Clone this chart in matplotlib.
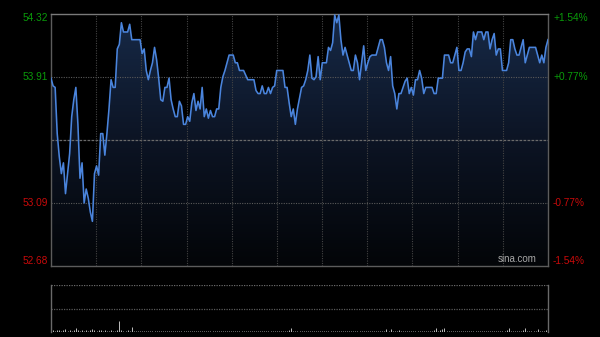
import numpy as np
import matplotlib
matplotlib.use('Agg')
import matplotlib.pyplot as plt
from matplotlib.colors import LinearSegmentedColormap
import matplotlib.transforms as mtransforms

plt.rcParams['font.family'] = ['Liberation Sans', 'DejaVu Sans']

# ---------------- data ----------------
prev_close = 53.50
y_min, y_max = 52.68, 54.32
tick_prices = [54.32, 53.91, 53.09, 52.68]
left_labels = ['54.32', '53.91', '53.09', '52.68']
right_labels = ['+1.54%', '+0.77%', '-0.77%', '-1.54%']
label_colors = ['#0a9a0a', '#0a9a0a', '#c80a0a', '#c80a0a']

prices = [
    53.90, 53.85, 53.84, 53.54, 53.39, 53.28, 53.35, 53.15, 53.28, 53.41,
    53.65, 53.76, 53.84, 53.60, 53.25, 53.35, 53.09, 53.18, 53.12, 53.03,
    52.97, 53.28, 53.33, 53.27, 53.54, 53.54, 53.40, 53.54, 53.70, 53.89,
    53.84, 53.84, 54.09, 54.12, 54.26, 54.20, 54.20, 54.20, 54.25, 54.15,
    54.15, 54.15, 54.15, 54.15, 54.06, 54.09, 53.95, 53.89, 53.95, 54.00,
    54.10, 54.02, 53.90, 53.76, 53.75, 53.84, 53.84, 53.90, 53.76, 53.70,
    53.65, 53.65, 53.75, 53.72, 53.60, 53.60, 53.65, 53.62, 53.74, 53.80,
    53.69, 53.75, 53.70, 53.84, 53.65, 53.70, 53.64, 53.69, 53.65, 53.65,
    53.70, 53.70, 53.84, 53.91, 53.95, 54.00, 54.05, 54.05, 54.05, 54.00,
    54.00, 53.95, 53.95, 53.95, 53.92, 53.89, 53.89, 53.89, 53.89, 53.82,
    53.80, 53.80, 53.85, 53.80, 53.80, 53.84, 53.80, 53.84, 53.85, 53.95,
    53.95, 53.95, 53.95, 53.84, 53.84, 53.74, 53.65, 53.70, 53.60, 53.70,
    53.77, 53.84, 53.85, 53.89, 53.95, 54.05, 53.90, 53.89, 53.91, 54.04,
    53.89, 54.00, 54.00, 54.00, 54.10, 54.08, 54.13, 54.31, 54.26, 54.31,
    54.15, 54.05, 54.10, 54.05, 54.00, 53.95, 53.95, 54.05, 54.00, 53.89,
    54.00, 54.11, 53.95, 54.00, 54.04, 54.05, 54.05, 54.05, 54.10, 54.15,
    54.15, 54.10, 54.00, 53.95, 54.04, 53.85, 53.80, 53.70, 53.80, 53.80,
    53.84, 53.88, 53.90, 53.80, 53.84, 53.79, 53.89, 53.89, 53.95, 53.90,
    53.80, 53.84, 53.84, 53.84, 53.84, 53.80, 53.80, 53.90, 53.90, 53.90,
    54.05, 54.05, 54.05, 54.00, 54.00, 54.05, 54.10, 53.95, 53.95, 54.00,
    54.07, 54.09, 54.09, 54.04, 54.20, 54.15, 54.20, 54.20, 54.20, 54.15,
    54.20, 54.20, 54.09, 54.15, 54.19, 54.05, 54.09, 54.09, 53.95, 53.95,
    53.95, 54.00, 54.15, 54.15, 54.09, 54.05, 54.05, 54.10, 54.15, 54.00,
    54.05, 54.10, 54.10, 54.10, 54.10, 54.05, 54.00, 54.05, 54.00, 54.10,
    54.15,
]

volumes = [
    14, 4, 3, 5, 4, 3, 4, 6, 3, 4, 3, 4, 9, 4, 3, 5, 3, 4, 3, 4,
    6, 4, 3, 4, 5, 3, 4, 3, 3, 4, 3, 3, 4, 23, 4, 3, 3, 4, 3, 10,
    3, 2, 2, 3, 2, 2, 3, 2, 2, 2, 3, 2, 2, 2, 2, 2, 3, 2, 2, 2,
    2, 2, 2, 3, 2, 2, 2, 2, 2, 2, 3, 2, 2, 2, 2, 2, 2, 2, 2, 2,
    2, 2, 3, 2, 2, 2, 2, 2, 2, 3, 2, 2, 2, 2, 2, 2, 2, 2, 2, 2,
    2, 2, 2, 3, 2, 2, 2, 2, 2, 2, 2, 3, 2, 2, 3, 4, 8, 3, 2, 3,
    2, 2, 2, 2, 3, 2, 2, 2, 2, 2, 2, 2, 3, 2, 2, 2, 2, 3, 2, 2,
    2, 2, 2, 2, 2, 3, 2, 2, 2, 2, 2, 2, 2, 3, 2, 2, 2, 2, 2, 3,
    2, 3, 6, 3, 6, 3, 2, 3, 5, 2, 2, 2, 3, 2, 2, 2, 2, 3, 2, 2,
    2, 3, 2, 2, 3, 4, 9, 3, 4, 7, 9, 3, 2, 3, 2, 2, 3, 2, 2, 2,
    2, 2, 3, 2, 2, 2, 2, 2, 3, 2, 2, 2, 2, 3, 2, 2, 2, 3, 2, 3,
    4, 8, 3, 2, 3, 2, 3, 2, 4, 9, 3, 2, 3, 2, 3, 6, 3, 2, 3, 4, 5,
]
vol_max = 100
n_vgrid = 11

minutes = np.arange(len(prices))
n_last = len(prices) - 1

W, H = 600, 337
fig = plt.figure(figsize=(W / 100, H / 100), dpi=100, facecolor='black')

# ---------------- price panel ----------------
ax = fig.add_axes([51 / W, 1 - 266 / H, 497 / W, 252.5 / H])
ax.set_facecolor('black')
ax.set_xlim(0, n_last)
ax.set_ylim(y_min, y_max)
ax.set_xticks([])
ax.set_yticks([])
for s in ['left', 'right', 'bottom']:
    ax.spines[s].set_color('#5c5c5c')
    ax.spines[s].set_linewidth(1.0)
ax.spines['top'].set_color('#7a7a7a')
ax.spines['top'].set_linewidth(1.0)

# gradient fill under the line
cmap = LinearSegmentedColormap.from_list('g', ['#030508', '#0c1424', '#172a48'])
grad = np.linspace(0, 1, 256).reshape(-1, 1)
im = ax.imshow(grad, extent=[0, n_last, y_min, y_max], origin='lower',
               aspect='auto', cmap=cmap, zorder=1)
poly = ax.fill_between(minutes, prices, y_min, color='none', lw=0)
path = poly.get_paths()[0]
im.set_clip_path(path, transform=ax.transData)

# grid
for p in [tick_prices[1], tick_prices[2]]:
    ax.axhline(p, color='#5a5a5a', lw=0.8, dashes=(1, 1.2), zorder=2)
ax.axhline(prev_close, color='#6a6a6a', lw=0.9, dashes=(2.2, 1.0), zorder=2)
for k in range(1, n_vgrid):
    ax.axvline(n_last * k / n_vgrid, color='#444444', lw=0.8, dashes=(1, 1.2), zorder=2)

ax.plot(minutes, prices, color='#4a84dc', lw=1.15, zorder=3, solid_joinstyle='round')

# labels
tl = mtransforms.blended_transform_factory(fig.transFigure, ax.transData)
vas = ['top', 'center', 'center', 'bottom']
for p, lt, rt, c, va in zip(tick_prices, left_labels, right_labels, label_colors, vas):
    yoff = 0
    ax.text(48 / W, p, lt, transform=tl, ha='right', va=va, color=c, fontsize=7.3)
    ax.text(553 / W, p, rt, transform=tl, ha='left', va=va, color=c, fontsize=7.3)

ax.text(0.978, 0.008, 'sina.com', transform=ax.transAxes, ha='right', va='bottom',
        color='#a8a8a8', fontsize=7.0, zorder=4)

# ---------------- volume panel ----------------
ax2 = fig.add_axes([51 / W, 1 - 332 / H, 497 / W, 47 / H])
ax2.set_facecolor('black')
ax2.set_xlim(0, n_last)
ax2.set_ylim(0, vol_max)
ax2.set_xticks([])
ax2.set_yticks([])
for s in ['left', 'right']:
    ax2.spines[s].set_color('#6a6a6a')
    ax2.spines[s].set_linewidth(1.0)
ax2.spines['top'].set_visible(False)
ax2.spines['bottom'].set_visible(False)
ax2.axhline(vol_max, color='#6a6a6a', lw=0.9, dashes=(1, 1.0))
ax2.axhline(vol_max / 2, color='#5a5a5a', lw=0.9, dashes=(1, 1.0))
ax2.vlines(minutes, 0, volumes, color='#bdbdbd', lw=0.7)

fig.savefig('out.png', dpi=100, facecolor='black')
